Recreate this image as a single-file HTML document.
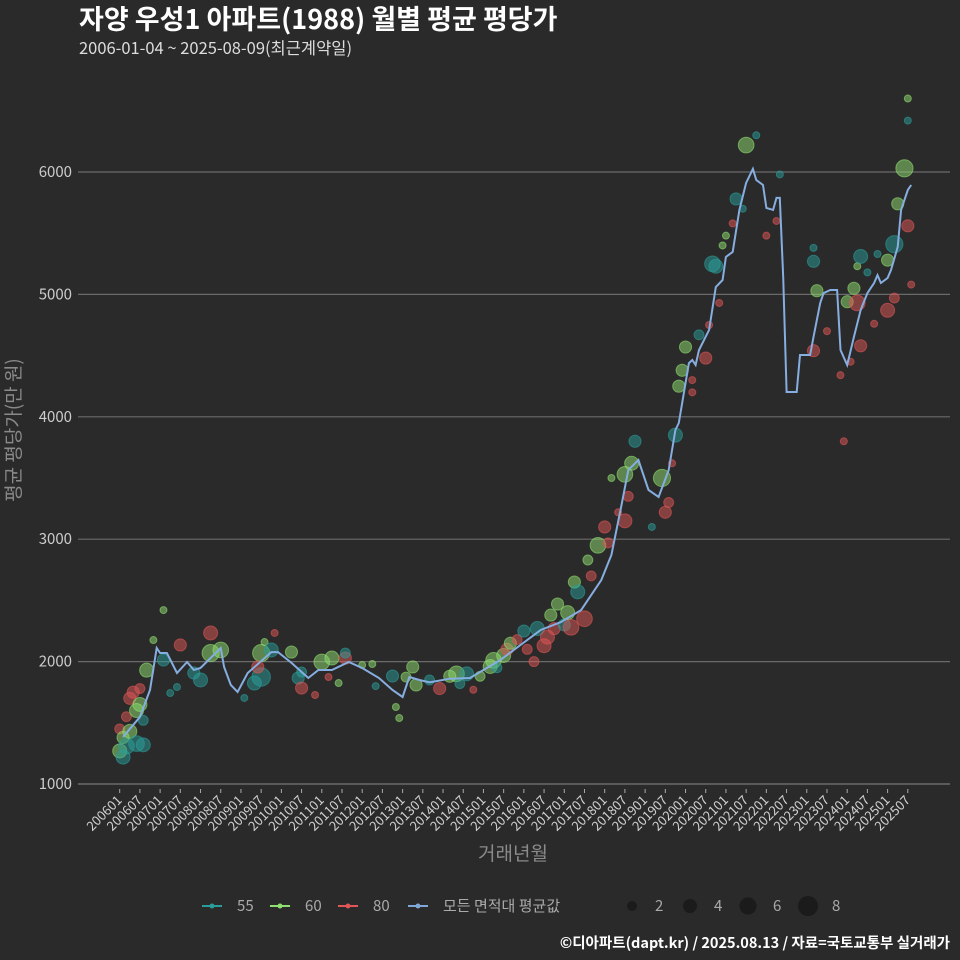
<!DOCTYPE html>
<html><head><meta charset="utf-8">
<style>
html,body{margin:0;padding:0;background:#2b2a2b;}
svg{display:block;font-family:"Noto Sans CJK KR","Liberation Sans",sans-serif;}
</style></head>
<body>
<svg id="chart" width="960" height="960" viewBox="0 0 960 960">
<rect width="960" height="960" fill="#2b2a2b"/>
<text x="79" y="29" font-size="27" font-weight="bold" fill="#ffffff">자양 우성1 아파트(1988) 월별 평균 평당가</text>
<text x="79" y="54" font-size="16.5" fill="#dddddd">2006-01-04 ~ 2025-08-09(최근계약일)</text>
<g id="grid"></g>
<g id="bubbles"></g>
<g id="avgline"></g>
<g id="xaxis"></g>
<text x="513" y="860" font-size="19" fill="#8a8a8a" text-anchor="middle">거래년월</text>
<text transform="translate(20,430) rotate(-90)" font-size="19" fill="#8a8a8a" text-anchor="middle">평균 평당가(만 원)</text>
<g font-size="15" fill="#aaaaaa">
 <g><line x1="202" y1="906" x2="222" y2="906" stroke="#2a9d9a" stroke-width="2"/><circle cx="212" cy="906" r="2.5" fill="#2a9d9a"/><text x="237" y="911">55</text></g>
 <g><line x1="270" y1="906" x2="290" y2="906" stroke="#8fe070" stroke-width="2"/><circle cx="280" cy="906" r="2.5" fill="#8fe070"/><text x="305" y="911">60</text></g>
 <g><line x1="338" y1="906" x2="358" y2="906" stroke="#e05555" stroke-width="2"/><circle cx="348" cy="906" r="2.5" fill="#e05555"/><text x="373" y="911">80</text></g>
 <g><line x1="408" y1="906" x2="428" y2="906" stroke="#7fa8d8" stroke-width="2"/><circle cx="418" cy="906" r="2.5" fill="#7fa8d8"/><text x="443" y="911">모든 면적대 평균값</text></g>
 <g><circle cx="632" cy="906" r="5" fill="#1c1b1c"/><text x="655" y="911">2</text></g>
 <g><circle cx="690" cy="906" r="7" fill="#1c1b1c"/><text x="714" y="911">4</text></g>
 <g><circle cx="748" cy="906" r="8.6" fill="#1c1b1c"/><text x="773" y="911">6</text></g>
 <g><circle cx="808" cy="906" r="10" fill="#1c1b1c"/><text x="832" y="911">8</text></g>
</g>
<text x="950" y="948" font-size="14.5" font-weight="bold" fill="#ffffff" text-anchor="end">©디아파트(dapt.kr) / 2025.08.13 / 자료=국토교통부 실거래가</text>
</svg>
<script>
const yTicks=[1000,2000,3000,4000,5000,6000];
const xTickLabels=["200601","200607","200701","200707","200801","200807","200901","200907","201001","201007","201101","201107","201201","201207","201301","201307","201401","201407","201501","201507","201601","201607","201701","201707","201801","201807","201901","201907","202001","202007","202101","202107","202201","202207","202301","202307","202401","202407","202501","202507"];
// average line: month index since 2006-01, value
const lineMonths=[1,6,9,11,12,14,17,20,22,24,30,31,33,35,38,45,47,51,56,59,63,68,72,77,81,84,86,89,92,98,104,113,119,125,131,137,143,146,149,151,154,157,160,163,165,166,169,170,171,172,175,177,179,180,182,184,186,188,189,191,192,194,195,196,197,198,201,202,205,206,208,209,211,213,214,216,218,220,222,224,225,226,228,229,231,232,234,235];
const lineValues=[1384,1547,1768,2111,2070,2070,1907,1997,1931,1948,2111,1956,1809,1752,1907,2078,2078,1989,1866,1931,1931,1997,1948,1866,1768,1711,1874,1850,1830,1860,1866,2013,2136,2258,2323,2421,2667,2871,3279,3565,3647,3402,3345,3565,3892,3949,4439,4464,4423,4546,4709,5060,5118,5306,5347,5690,5910,6025,5935,5894,5706,5690,5788,5788,5142,4203,4203,4505,4505,4652,4930,5011,5036,5036,4546,4423,4652,4873,5011,5093,5158,5093,5134,5199,5387,5690,5853,5894];
// transactions
const bubMonthIdx=[0,0,1,1,2,2,3,3,4,5,5,6,6,7,7,8,10,13,18,27,27,30,24,22,15,17,13,42,42,40,41,37,46,43,45,51,53,54,58,54,60,63,67,67,62,65,72,75,76,81,87,85,82,83,88,92,95,98,100,101,103,105,107,110,111,112,114,115,116,118,120,121,123,124,126,127,128,129,130,132,133,134,135,136,138,139,140,142,144,145,146,148,150,150,151,152,153,158,161,162,163,164,165,166,167,168,170,170,172,174,175,176,177,178,179,180,182,183,185,186,189,192,195,196,206,206,207,206,210,214,215,216,217,218,219,219,220,220,222,224,225,228,228,230,230,231,233,234,234,234,235];
const bubValues=[1270,1450,1220,1380,1550,1310,1700,1430,1750,1330,1600,1780,1650,1320,1520,1930,2176,2421,2136,2234,2070,2095,1850,1907,1743,1792,2013,2070,1874,1825,1956,1703,2234,2160,2095,2078,1866,1784,1727,1915,1997,2029,2029,2070,1874,1825,1972,1980,1800,1882,1956,1874,1629,1539,1809,1850,1780,1880,1900,1820,1900,1770,1880,1960,2010,1950,2050,2100,2150,2180,2250,2100,2000,2270,2130,2200,2380,2270,2470,2300,2400,2280,2650,2570,2350,2830,2700,2950,3100,2970,3500,3220,3530,3150,3350,3620,3800,3100,3500,3220,3300,3620,3850,4250,4380,4570,4200,4300,4670,4480,4750,5250,5230,4930,5400,5480,5580,5780,5700,6220,6300,5480,5600,5980,5270,4540,5030,5380,4700,4340,3800,4940,4450,5050,4930,5230,4580,5310,5180,4760,5330,4870,5280,4970,5410,5740,6030,5560,6420,6600,5080];
const bubSizes=[4,2,4,3,2,5,3,4,3,5,4,2,4,4,2,4,1,1,3,4,6,5,4,3,1,1,3,6,7,4,3,1,1,1,4,3,3,3,1,2,5,4,3,2,1,1,1,1,1,3,3,2,1,1,3,2,3,3,5,2,4,1,2,4,5,2,4,3,3,2,3,2,2,4,4,4,3,3,3,3,4,5,3,4,5,2,2,5,3,2,1,1,5,4,2,4,3,1,6,3,2,1,4,3,3,3,1,1,2,3,1,5,4,1,1,1,1,3,1,5,1,1,1,1,3,3,3,1,1,1,1,3,1,3,5,1,3,4,1,1,1,4,3,2,6,3,6,3,1,1,1];
const bubTypes=["60","80","55","60","80","55","80","60","80","55","60","80","60","55","55","60","60","60","80","80","60","60","55","55","55","55","55","60","55","55","80","55","80","60","55","60","55","80","80","55","60","60","80","55","80","60","60","60","55","55","60","60","60","60","60","55","80","60","60","55","55","80","60","60","60","55","60","80","60","80","55","80","80","55","80","80","60","80","60","55","60","80","60","55","80","60","80","60","80","80","60","80","60","80","80","60","55","55","60","80","80","80","55","60","60","60","80","80","55","80","80","55","55","80","60","60","80","55","55","60","55","80","80","55","55","80","60","55","80","80","80","60","80","60","80","60","80","55","55","80","55","80","60","80","55","60","60","80","55","60","80"];
const colors={"55":"#2a9d9a","60":"#8fe070","80":"#e05555"};
const NS="http://www.w3.org/2000/svg";
const X0=119.7, XSTEP=3.368, Y0=784, YSCALE=0.1224;
function xScale(m){return X0+m*XSTEP;}
function yScale(v){return Y0-(v-1000)*YSCALE;}
function rScale(s){return 3.5*Math.sqrt(s);}
function mk(tag,attrs,parent){const e=document.createElementNS(NS,tag);for(const k in attrs)e.setAttribute(k,attrs[k]);parent.appendChild(e);return e;}
const grid=document.getElementById('grid');
yTicks.forEach(v=>{
  const ln=mk('line',{x1:78,x2:950,y1:yScale(v),y2:yScale(v),stroke:v===1000?'#777':'#6a6a6a','stroke-width':1.2},grid);
  
  
  const t=mk('text',{x:72,y:yScale(v)+5,'font-size':15,fill:'#cccccc','text-anchor':'end'},grid);
  t.textContent=v;
  
  
});
const xa=document.getElementById('xaxis');
xTickLabels.forEach((lab,i)=>{
  const yr=+lab.slice(0,4), mo=+lab.slice(4,6);
  const m=(yr-2006)*12+(mo-1);
  const x=xScale(m);
  const tk=mk('line',{x1:x,x2:x,y1:789,y2:793,stroke:'#aaa','stroke-width':1},xa);
  
  
  const t=mk('text',{x:x+3,y:801,'font-size':13,fill:'#d0d0d0','text-anchor':'end',transform:`rotate(-45 ${x+3} 801)`},xa);
  t.textContent=lab;
  
  
});
const bg=document.getElementById('bubbles');
bubMonthIdx.forEach((m,i)=>{
  const c=mk('circle',{cx:xScale(m),cy:yScale(bubValues[i]),r:rScale(bubSizes[i]),fill:colors[bubTypes[i]],'fill-opacity':0.5,stroke:colors[bubTypes[i]],'stroke-opacity':0.6,'stroke-width':1},bg);
  
  
});
const al=document.getElementById('avgline');
const pts=lineMonths.map((m,i)=>xScale(m).toFixed(1)+','+yScale(lineValues[i]).toFixed(1)).join(' ');
const pl=mk('polyline',{points:pts,fill:'none',stroke:'#86aee0','stroke-width':2},al);


</script>
</body></html>
